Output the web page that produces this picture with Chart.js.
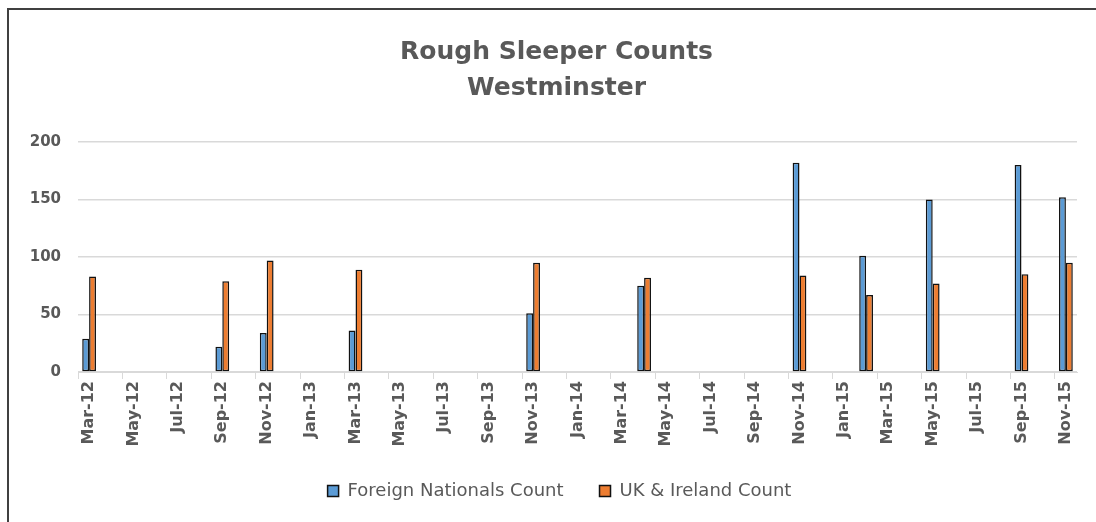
<!DOCTYPE html>
<html>
<head>
<meta charset="utf-8">
<title>Rough Sleeper Counts Westminster</title>
<script src="https://cdn.jsdelivr.net/npm/chart.js@4.4.1/dist/chart.umd.min.js"></script>
<style>
  html, body { margin: 0; padding: 0; background: #fff; overflow: hidden; }
  #wrap { position: relative; width: 1096px; height: 522px; overflow: hidden; }
  #frame { position: absolute; left: 7px; top: 8px; width: 1200px; height: 600px;
           border: 2px solid #404040; box-sizing: border-box; }
  canvas { position: absolute; left: 0; top: 0; }
</style>
</head>
<body>
<div id="wrap">
  <div id="frame"></div>
  <canvas id="roughChart" width="1096" height="522"></canvas>
</div>
<script>
// Monthly date axis, Mar-12 to Nov-15
const months = [
    'Mar-12', 'Apr-12', 'May-12', 'Jun-12', 'Jul-12', 'Aug-12', 'Sep-12', 'Oct-12', 'Nov-12', 'Dec-12',
    'Jan-13', 'Feb-13', 'Mar-13', 'Apr-13', 'May-13', 'Jun-13', 'Jul-13', 'Aug-13', 'Sep-13', 'Oct-13',
    'Nov-13', 'Dec-13', 'Jan-14', 'Feb-14', 'Mar-14', 'Apr-14', 'May-14', 'Jun-14', 'Jul-14', 'Aug-14',
    'Sep-14', 'Oct-14', 'Nov-14', 'Dec-14', 'Jan-15', 'Feb-15', 'Mar-15', 'Apr-15', 'May-15', 'Jun-15',
    'Jul-15', 'Aug-15', 'Sep-15', 'Oct-15', 'Nov-15'
];

// Months in which a count was taken
const countMonths = ['Mar-12', 'Sep-12', 'Nov-12', 'Mar-13', 'Nov-13', 'Apr-14',
                     'Nov-14', 'Feb-15', 'May-15', 'Sep-15', 'Nov-15'];
const foreignNationals = [29, 22, 34, 36, 51, 75, 182, 101, 150, 180, 152];
const ukIreland = [83, 79, 97, 89, 95, 82, 84, 67, 77, 85, 95];

const yTicks = [0, 50, 100, 150, 200];

// Spread the counts over the month axis (empty months stay null)
const toMonthly = (values) => months.map(m => {
    const i = countMonths.indexOf(m);
    return i === -1 ? null : values[i];
});

const textColor = '#595959';
const gridColor = '#d9d9d9';
const fontFamily = '"DejaVu Sans", sans-serif';

// Title and legend sit a little right of the plot centre in the original
const centreShift = {
    id: 'centreShift',
    afterLayout(chart) {
        const shift = (box, dx) => { if (box) { box.left += dx; box.right += dx; } };
        shift(chart.titleBlock, 8);
        shift(chart.legend, 11);
    }
};

document.addEventListener('DOMContentLoaded', function() {
    const ctx = document.getElementById('roughChart');

    new Chart(ctx, {
        type: 'bar',
        data: {
            labels: months,
            datasets: [{
                label: 'Foreign Nationals Count',
                data: toMonthly(foreignNationals),
                backgroundColor: '#5B9BD5',
                borderColor: '#111111',
                borderWidth: 1.5,
                borderSkipped: false
            }, {
                label: 'UK & Ireland Count',
                data: toMonthly(ukIreland),
                backgroundColor: '#ED7D31',
                borderColor: '#111111',
                borderWidth: 1.5,
                borderSkipped: false
            }]
        },
        options: {
            responsive: false,
            animation: false,
            categoryPercentage: 0.62,
            barPercentage: 1.0,
            layout: {
                padding: { left: 20, right: 19, top: 0, bottom: 12 }
            },
            plugins: {
                title: {
                    display: true,
                    text: ['Rough Sleeper Counts', 'Westminster'],
                    color: textColor,
                    font: { family: fontFamily, size: 25, weight: 'bold', lineHeight: 1.45 },
                    padding: { top: 34, bottom: 35.5 }
                },
                legend: {
                    position: 'bottom',
                    labels: {
                        color: textColor,
                        font: { family: fontFamily, size: 18 },
                        boxWidth: 11,
                        boxHeight: 11,
                        padding: 36
                    }
                },
                tooltip: { enabled: false }
            },
            scales: {
                x: {
                    offset: true,
                    grid: {
                        offset: true,
                        drawOnChartArea: false,
                        drawTicks: true,
                        tickLength: 7,
                        color: (c) => c.index % 2 === 0 ? gridColor : 'rgba(0,0,0,0)'
                    },
                    border: { display: true, color: gridColor },
                    ticks: {
                        autoSkip: false,
                        maxRotation: 90,
                        minRotation: 90,
                        padding: 2,
                        color: textColor,
                        font: { family: fontFamily, size: 16, weight: 'bold' },
                        callback: function(value, index) {
                            return index % 2 === 0 ? months[index] : '';
                        }
                    },
                    afterFit: function(scale) { scale.height = 74; }
                },
                y: {
                    min: yTicks[0],
                    max: yTicks[yTicks.length - 1],
                    afterBuildTicks: function(scale) {
                        scale.ticks = yTicks.map(v => ({ value: v }));
                    },
                    grid: { color: gridColor, drawTicks: false, lineWidth: 1.5 },
                    border: { display: false },
                    ticks: {
                        padding: 17,
                        color: textColor,
                        font: { family: fontFamily, size: 15, weight: 'bold' }
                    },
                    afterFit: function(scale) { scale.width = 58; }
                }
            }
        },
        plugins: [centreShift]
    });
});
</script>
</body>
</html>
